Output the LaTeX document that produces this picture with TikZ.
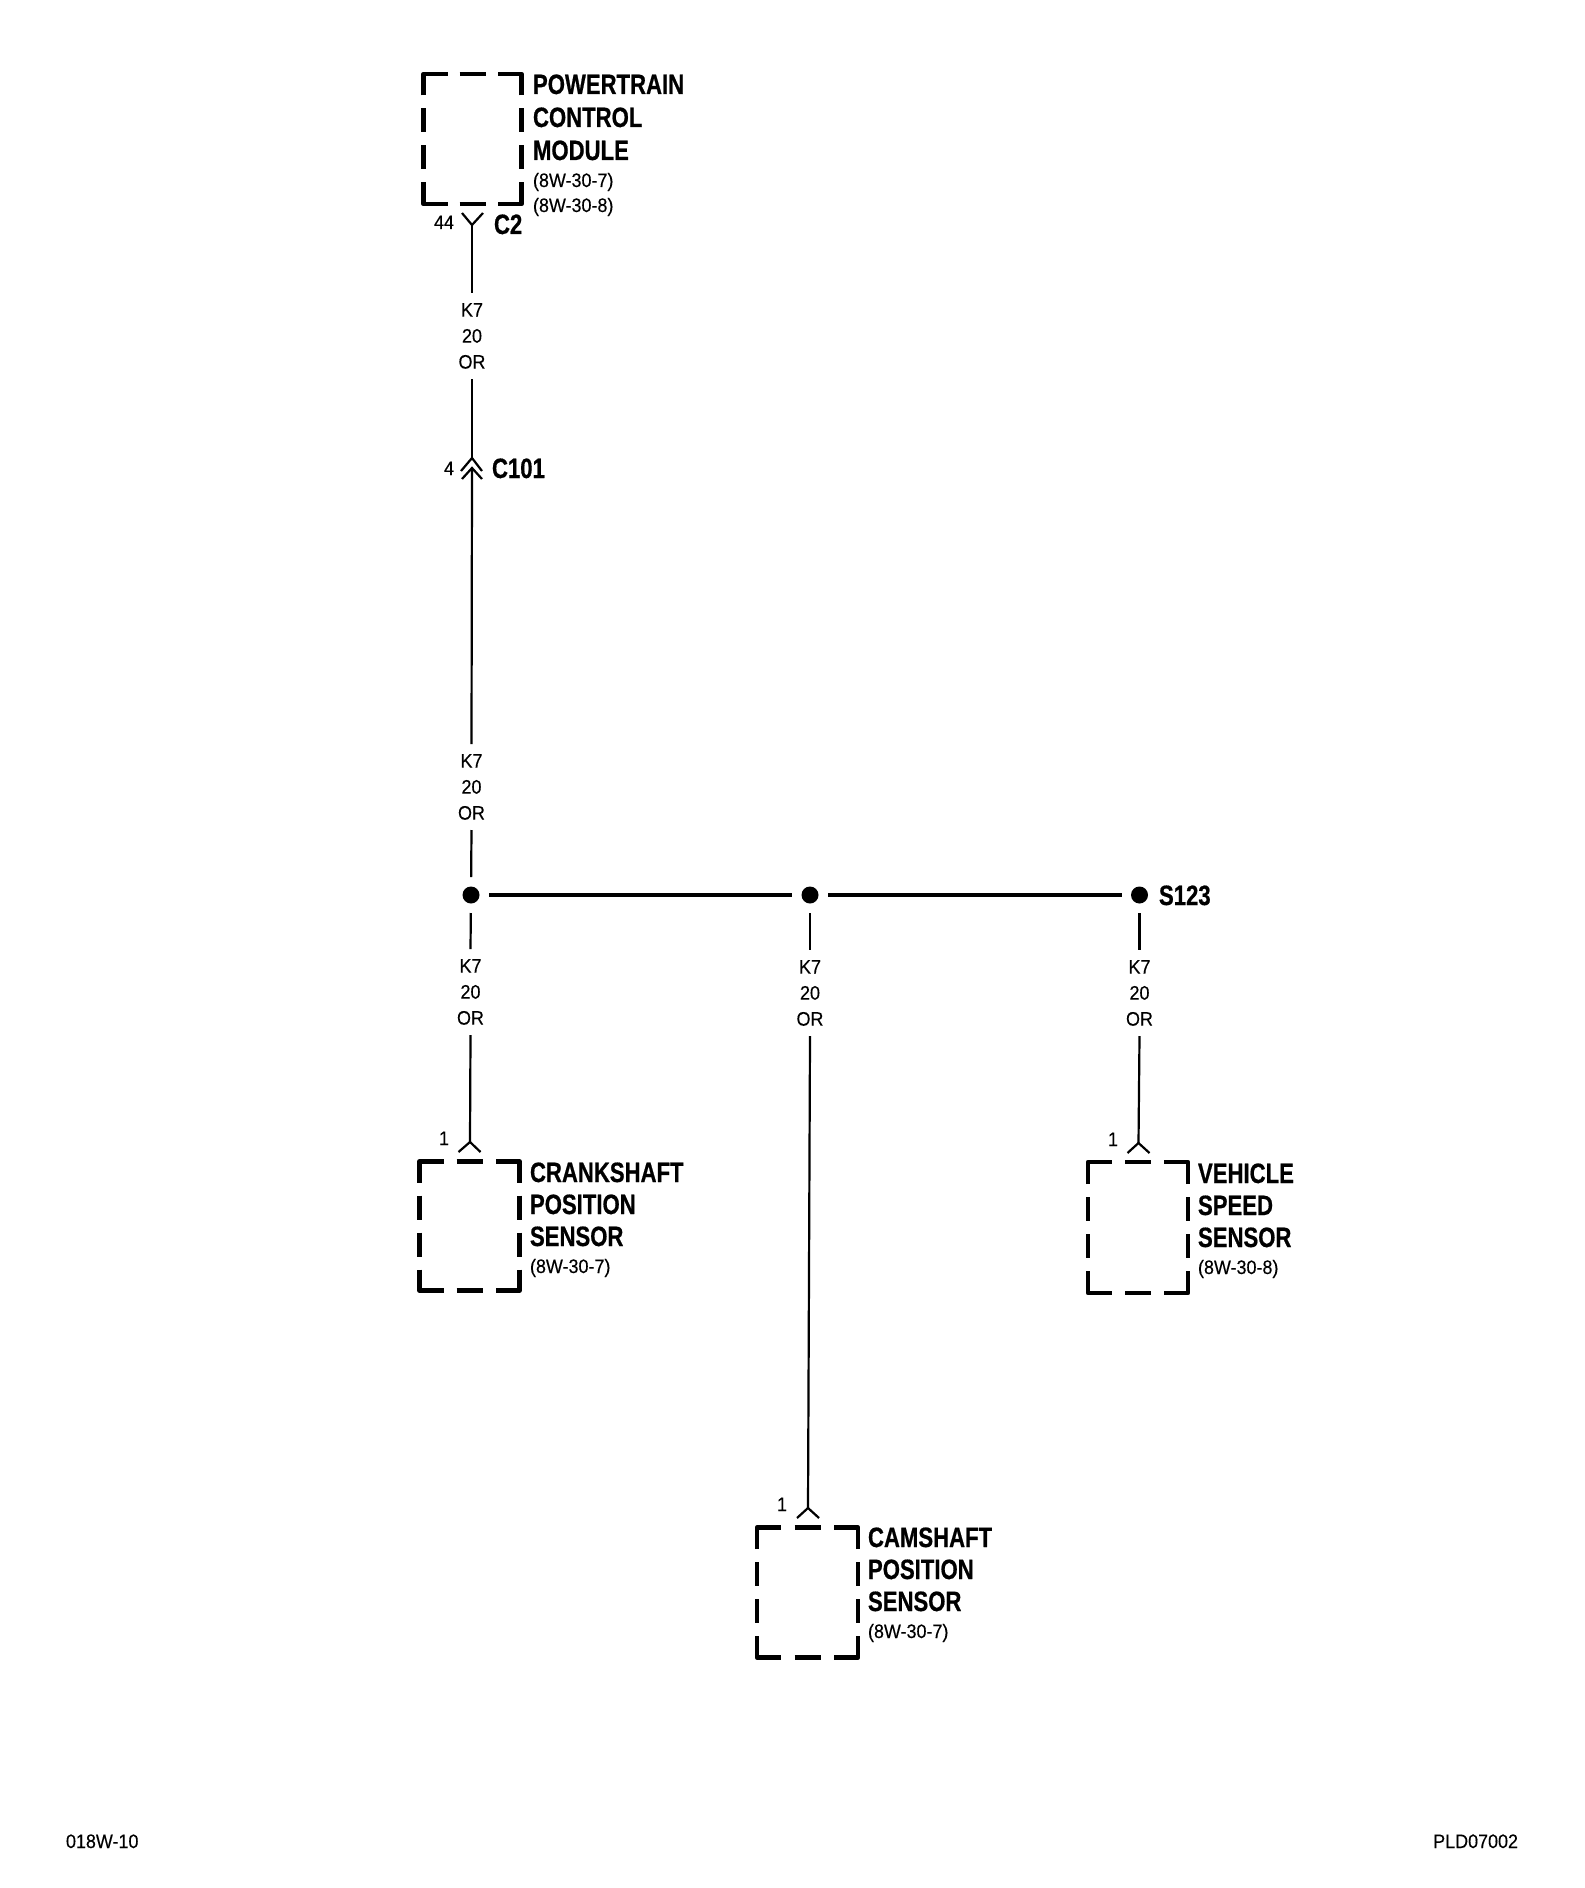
\documentclass[tikz,border=0pt]{standalone}
\usepackage{fontspec}
\setmainfont{Liberation Sans}
\newfontfamily\boldlab[FakeStretch=0.79,FakeBold=0.6]{Liberation Sans Bold}
\newfontfamily\smalllab[FakeStretch=0.92,FakeBold=0.25]{Liberation Sans}
\tikzset{
  every node/.style={inner sep=0pt,outer sep=0pt},
  title/.style={font=\boldlab\fontsize{14}{14}\selectfont,anchor=base west},
  small/.style={font=\smalllab\fontsize{9.75}{13}\selectfont,anchor=base west},
  pin/.style={font=\smalllab\fontsize{9.75}{13}\selectfont,anchor=base east},
  wirelabel/.style={font=\smalllab\fontsize{9.75}{13}\selectfont,align=center,minimum height=43pt},
  wire/.style={line width=1.1pt,draw=black},
  bus/.style={line width=2.2pt,draw=black},
  fork/.style={line width=1.1pt,draw=black},
  boxline/.style={line width=2.3pt,draw=black,line cap=butt,line join=round},
  splice/.style={circle,fill=black,minimum size=8.5pt,outer sep=4.75pt},
  modbox/.style={rectangle,minimum width=#1*.5pt},
  modh/.style={minimum height=#1*.5pt}
}
% name, cx, cy, width, height (px)
\newcommand{\modulebox}[5]{%
  \node[modbox=#4,modh=#5] (#1) at (#2,#3) {};
  \pgfmathsetmacro{\sdash}{(#5-13*3-24*2)/2}
  \draw[boxline] (#1.north west) ++(0,\sdash) -- ++(0,-\sdash) -- ++(24,0);
  \draw[boxline] (#1.north east) ++(0,\sdash) -- ++(0,-\sdash) -- ++(-24,0);
  \draw[boxline] (#1.south west) ++(0,-\sdash) -- ++(0,\sdash) -- ++(24,0);
  \draw[boxline] (#1.south east) ++(0,-\sdash) -- ++(0,\sdash) -- ++(-24,0);
  \draw[boxline] (#1.north) ++(-13,0) -- ++(26,0);
  \draw[boxline] (#1.south) ++(-13,0) -- ++(26,0);
  \draw[boxline] (#1.west) ++(0,-30.5) -- ++(0,24);
  \draw[boxline] (#1.west) ++(0,6.5) -- ++(0,24);
  \draw[boxline] (#1.east) ++(0,-30.5) -- ++(0,24);
  \draw[boxline] (#1.east) ++(0,6.5) -- ++(0,24);
}
\begin{document}
\begin{tikzpicture}[x=.5pt,y=-.5pt]
\useasboundingbox (0,0) rectangle (1584,1888);
% modules
\modulebox{pcm}{472.5}{139}{98}{130}
\modulebox{crank}{469.5}{1226}{100}{129}
\modulebox{cam}{807.5}{1592.5}{101}{130}
\modulebox{vss}{1138}{1227.5}{100}{131}
% module titles
\node[title] (t1) at (533,94) {POWERTRAIN};
\node[title] (t2) at (533,127) {CONTROL};
\node[title] (t3) at (533,160) {MODULE};
\node[small] (t4) at (533,187) {(8W-30-7)};
\node[small] (t5) at (533,212) {(8W-30-8)};
\node[title] (c1) at (530,1182) {CRANKSHAFT};
\node[title] (c2) at (530,1214) {POSITION};
\node[title] (c3) at (530,1246) {SENSOR};
\node[small] (c4) at (530,1273) {(8W-30-7)};
\node[title] (m1) at (868,1547) {CAMSHAFT};
\node[title] (m2) at (868,1579) {POSITION};
\node[title] (m3) at (868,1611) {SENSOR};
\node[small] (m4) at (868,1638) {(8W-30-7)};
\node[title] (v1) at (1198,1183) {VEHICLE};
\node[title] (v2) at (1198,1215) {SPEED};
\node[title] (v3) at (1198,1247) {SENSOR};
\node[small] (v4) at (1198,1274) {(8W-30-8)};
% connector and pin labels
\node[title] (c2lab) at (494,234) {C2};
\node[title] (c101lab) at (492,478) {C101};
\node[title] (s123lab) at (1159,905) {S123};
\node[pin] (p44) at (454,229) {44};
\node[pin] (p4) at (454,475) {4};
\node[pin] (p1a) at (449,1145) {1};
\node[pin] (p1b) at (787,1511) {1};
\node[pin] (p1c) at (1118,1146) {1};
% wire labels
\node[wirelabel] (w1) at (472,336) {K7\\20\\OR};
\node[wirelabel] (w2) at (471.5,787) {K7\\20\\OR};
\node[wirelabel] (w3) at (470.5,992) {K7\\20\\OR};
\node[wirelabel] (w4) at (810,993) {K7\\20\\OR};
\node[wirelabel] (w5) at (1139.5,993) {K7\\20\\OR};
% splices
\node[splice] (d1) at (471,895) {};
\node[splice] (d2) at (810,895) {};
\node[splice] (d3) at (1139.5,895) {};
% connector symbol tips
\coordinate (f1) at (472,225);
\coordinate (f1l) at (462,213);
\coordinate (f1r) at (483,213);
\coordinate (f2) at (472,458);
\coordinate (f2l) at (461,471);
\coordinate (f2r) at (482,471);
\coordinate (f2i) at (472,468);
\coordinate (f2il) at (462,479);
\coordinate (f2ir) at (482,479);
\coordinate (f3) at (470,1142);
\coordinate (f3l) at (458.5,1152);
\coordinate (f3r) at (480.5,1152);
\coordinate (f4) at (808,1508);
\coordinate (f4l) at (797,1518);
\coordinate (f4r) at (819,1518);
\coordinate (f5) at (1138.5,1143);
\coordinate (f5l) at (1127.5,1153);
\coordinate (f5r) at (1149.5,1153);
\draw[fork] (f1l) -- (f1) -- (f1r);
\draw[fork] (f2l) -- (f2) -- (f2r);
\draw[fork] (f2il) -- (f2i) -- (f2ir);
\draw[fork] (f3l) -- (f3) -- (f3r);
\draw[fork] (f4l) -- (f4) -- (f4r);
\draw[fork] (f5l) -- (f5) -- (f5r);
% wires
\draw[wire] (f1) -- (w1.north);
\draw[wire] (w1.south) -- (f2);
\draw[wire] (f2i) -- (w2.north);
\draw[wire] (w2.south) -- (d1);
\draw[wire] (d1) -- (w3.north);
\draw[wire] (w3.south) -- (f3);
\draw[wire] (d2) -- (w4.north);
\draw[wire] (w4.south) -- (f4);
\draw[wire] (d3) -- (w5.north);
\draw[wire] (w5.south) -- (f5);
\draw[bus] (d1) -- (d2);
\draw[bus] (d2) -- (d3);
% footer
\node[small] (foot1) at (66,1848) {018W-10};
\node[pin] (foot2) at (1518,1848) {PLD07002};
\end{tikzpicture}
\end{document}
